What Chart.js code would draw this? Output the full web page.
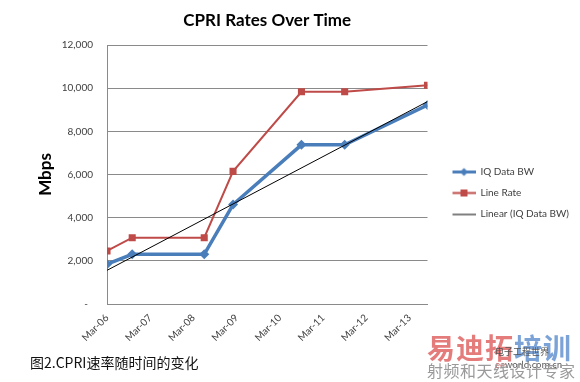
<!DOCTYPE html>
<html>
<head>
<meta charset="utf-8">
<script src="https://cdn.jsdelivr.net/npm/chart.js@4/dist/chart.umd.min.js"></script>
<style>
  html, body { margin: 0; padding: 0; background: #fff; }
  #wrap { position: relative; width: 580px; height: 382px; overflow: hidden; }
  canvas { position: absolute; left: 0; top: 0; }
  .caption { position: absolute; left: 30px; top: 352px; font: 14px "Noto Sans CJK SC", sans-serif; color: #111; white-space: nowrap; }
  .wm1 { position: absolute; left: 427px; top: 327px; font: bold 28px "Noto Sans CJK SC", sans-serif; white-space: nowrap; letter-spacing: 1px; }
  .wm2 { position: absolute; left: 427px; top: 358px; font: 16px "Noto Sans CJK SC", sans-serif; color: #9a9a9a; white-space: nowrap; letter-spacing: 0.5px; }
  .wm3 { position: absolute; left: 495px; top: 345px; font: 9px "Noto Sans CJK SC", sans-serif; color: #555; white-space: nowrap; }
</style>
</head>
<body>
<div id="wrap">
  <canvas id="c" width="580" height="382"></canvas>
  <div class="wm1"><span style="color:rgba(220,80,80,0.75)">易迪拓</span><span style="color:rgba(90,140,205,0.8)">培训</span></div>
  <div class="wm3">电子工程世界<br><span style="color:#c0504d">ee</span>world.com.cn</div>
  <div class="wm2">射频和天线设计专家</div>
  <div class="caption">图2.CPRI速率随时间的变化</div>
</div>
<script>
// ---- data ----
const dates = ['2006-03', '2006-10', '2008-06', '2009-02', '2010-09', '2011-09', '2013-08'];
const iqDataBW = [1843.2, 2304, 2304, 4608, 7372.8, 7372.8, 9216];
const lineRate = [2457.6, 3072, 3072, 6144, 9830.4, 9830.4, 10137.6];
const trendDates = ['2006-03', '2013-08'];
const trendValues = [1560, 9380];
const tickDates = ['2006-03', '2007-03', '2008-03', '2009-03', '2010-03', '2011-03', '2012-03', '2013-03'];
const tickLabels = ['Mar-06', 'Mar-07', 'Mar-08', 'Mar-09', 'Mar-10', 'Mar-11', 'Mar-12', 'Mar-13'];
const seriesNames = ['IQ Data BW', 'Line Rate', 'Linear (IQ Data BW)'];

// months since the first date
const toMonths = d => { const [y, m] = d.split('-').map(Number); return (y - 2006) * 12 + (m - 3); };
const xy = (ds, vs) => ds.map((d, i) => ({ x: toMonths(d), y: vs[i] }));
const tickPos = tickDates.map(toMonths);
const xMax = toMonths(dates[dates.length - 1]);

const BLUE = '#4A7EBB', RED = '#BE4B48';

function legendIcon(kind) {
  const c = document.createElement('canvas');
  c.width = 37; c.height = 11;
  const g = c.getContext('2d');
  const x0 = 14, x1 = 37, cy = 5.5, cx = (x0 + x1) / 2;
  if (kind === 0) {
    g.strokeStyle = BLUE; g.lineWidth = 3; g.beginPath(); g.moveTo(x0, cy); g.lineTo(x1, cy); g.stroke();
    g.fillStyle = BLUE; g.beginPath(); g.moveTo(cx, cy - 4); g.lineTo(cx + 4, cy); g.lineTo(cx, cy + 4); g.lineTo(cx - 4, cy); g.closePath(); g.fill();
  } else if (kind === 1) {
    g.strokeStyle = RED; g.lineWidth = 2; g.beginPath(); g.moveTo(x0, cy); g.lineTo(x1, cy); g.stroke();
    g.fillStyle = RED; g.fillRect(cx - 3.5, cy - 3.5, 7, 7);
  } else {
    g.strokeStyle = '#000'; g.lineWidth = 1; g.beginPath(); g.moveTo(x0, cy + 0.5); g.lineTo(x1, cy + 0.5); g.stroke();
  }
  return c;
}
const icons = [legendIcon(0), legendIcon(1), legendIcon(2)];

new Chart(document.getElementById('c'), {
  type: 'line',
  data: {
    datasets: [
      { label: seriesNames[0], data: xy(dates, iqDataBW), borderColor: BLUE, backgroundColor: BLUE,
        borderWidth: 3.5, pointStyle: 'rectRot', pointRadius: 5, pointBorderWidth: 0, order: 1, tension: 0 },
      { label: seriesNames[1], data: xy(dates, lineRate), borderColor: RED, backgroundColor: RED,
        borderWidth: 2, pointStyle: 'rect', pointRadius: 5, pointBorderWidth: 0, order: 2, tension: 0 },
      { label: seriesNames[2], data: xy(trendDates, trendValues), borderColor: '#000', backgroundColor: '#000',
        borderWidth: 1, pointRadius: 0, order: 0, tension: 0 }
    ]
  },
  options: {
    responsive: false,
    animation: false,
    events: [],
    layout: { padding: { top: 4, right: 10, bottom: 0, left: 0 } },
    plugins: {
      title: {
        display: true, text: 'CPRI Rates Over Time', fullSize: false,
        color: '#000', font: { family: 'Lato', size: 17, weight: 'bold' },
        padding: { top: 6, bottom: 14.6 }
      },
      legend: {
        position: 'right',
        labels: {
          usePointStyle: true, pointStyleWidth: 37, padding: 11,
          color: '#404040', font: { family: 'Lato', size: 10 },
          generateLabels: chart => chart.data.datasets.map((ds, i) => ({
            text: ds.label, pointStyle: icons[i], fillStyle: 'transparent', strokeStyle: 'transparent',
            lineWidth: 0, hidden: false, datasetIndex: i, fontColor: '#404040'
          }))
        }
      },
      tooltip: { enabled: false }
    },
    scales: {
      x: {
        type: 'linear', min: 0, max: xMax,
        afterBuildTicks: s => { s.ticks = tickPos.map(v => ({ value: v })); },
        afterFit: s => { s.height = 78; },
        grid: { display: false, drawTicks: false },
        border: { display: true, color: '#8a8a8a', width: 1 },
        ticks: {
          autoSkip: false, minRotation: 45, maxRotation: 45, padding: 8,
          color: '#404040', font: { family: 'Lato', size: 10 },
          callback: (v, i) => tickLabels[i]
        }
      },
      y: {
        min: 0, max: 12000,
        afterBuildTicks: s => { s.ticks = [0, 2000, 4000, 6000, 8000, 10000, 12000].map(v => ({ value: v })); },
        afterFit: s => { s.width = 107; },
        grid: { color: '#8a8a8a', lineWidth: 1, drawTicks: false },
        border: { display: true, color: '#8a8a8a', width: 1 },
        ticks: {
          padding: 14, color: '#404040', font: { family: 'Lato', size: 10 },
          callback: v => v === 0 ? '-  ' : v.toLocaleString('en-US')
        },
        title: {
          display: true, text: 'Mbps', color: '#000',
          font: { family: 'Lato', size: 17, weight: 'bold' },
          padding: { top: 35, bottom: 0 }
        }
      }
    }
  }
});
</script>
</body>
</html>
